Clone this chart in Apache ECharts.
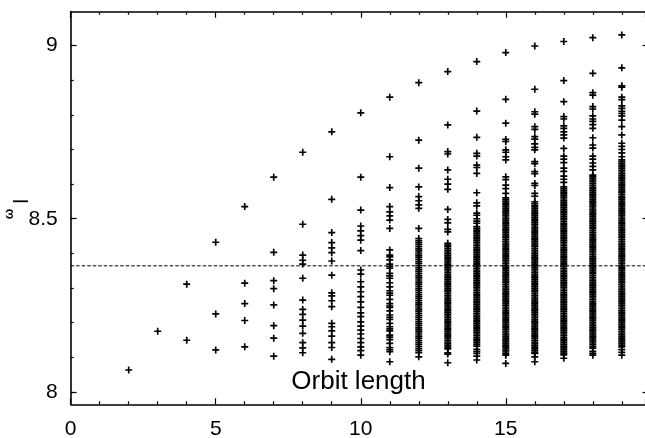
<!DOCTYPE html>
<html><head><meta charset="utf-8">
<script src="https://cdn.jsdelivr.net/npm/echarts@6/dist/echarts.min.js"></script>
<style>html,body{margin:0;padding:0;background:#fff}#c{width:645px;height:438px}</style>
</head><body><div id="c"></div>
<script>
// ---- data (omega_l values per orbit length) ----
const orbit2 = [8.063];
const orbit3 = [8.175];
const orbit4 = [8.311, 8.149];
const orbit5 = [8.432, 8.225, 8.121];
const orbit6 = [8.535, 8.314, 8.255, 8.206, 8.130];
const orbit7 = [8.620, 8.403, 8.321, 8.298, 8.251, 8.191, 8.155, 8.103];
const orbit8 = [8.692, 8.484, 8.395, 8.380, 8.369, 8.328, 8.265, 8.238, 8.224, 8.207, 8.190, 8.169, 8.142, 8.127, 8.113];
const orbit9 = [8.751, 8.556, 8.460, 8.431, 8.416, 8.402, 8.378, 8.337, 8.286, 8.277, 8.263, 8.246, 8.198, 8.188, 8.176, 8.161, 8.142, 8.128, 8.094];
const orbit10 = [8.806, 8.620, 8.525, 8.479, 8.465, 8.451, 8.438, 8.408, 8.352, 8.340, 8.318, 8.303, 8.289, 8.275, 8.260, 8.244, 8.228, 8.217, 8.202, 8.190, 8.178, 8.167, 8.154, 8.142, 8.130, 8.119, 8.106];
const orbit11 = [8.851, 8.679, 8.590, 8.535, 8.520, 8.508, 8.496, 8.472, 8.410, 8.395, 8.390, 8.381, 8.369, 8.362, 8.357, 8.342, 8.335, 8.328, 8.315, 8.303, 8.292, 8.285, 8.279, 8.267, 8.255, 8.248, 8.244, 8.234, 8.222, 8.215, 8.209, 8.198, 8.188, 8.182, 8.176, 8.164, 8.158, 8.151, 8.140, 8.128, 8.122, 8.116, 8.087];
const orbit12 = [8.893, 8.727, 8.646, 8.592, 8.564, 8.552, 8.540, 8.530, 8.472,
  8.443, 8.437, 8.431, 8.425, 8.419, 8.413, 8.407, 8.401, 8.395, 8.389, 8.383, 8.377, 8.371, 8.365, 8.359, 8.353, 8.347, 8.341, 8.335, 8.329, 8.323, 8.317, 8.311, 8.305, 8.299, 8.293, 8.287, 8.281, 8.275, 8.269, 8.263, 8.257, 8.251, 8.245, 8.239, 8.233, 8.227, 8.221, 8.215, 8.209, 8.203, 8.197, 8.191, 8.185, 8.179, 8.173, 8.167, 8.161, 8.155, 8.149, 8.143, 8.137, 8.131, 8.125, 8.119, 8.113, 8.101];
const orbit13 = [8.925, 8.771, 8.694, 8.687, 8.641, 8.614, 8.600, 8.585, 8.527, 8.498, 8.488, 8.469, 8.462,
  8.429, 8.424, 8.419, 8.414, 8.409, 8.404, 8.399, 8.394, 8.389, 8.384, 8.379, 8.374, 8.369, 8.364, 8.359, 8.354, 8.349, 8.344, 8.339, 8.334, 8.329, 8.324, 8.319, 8.314, 8.309, 8.304, 8.299, 8.294, 8.289, 8.284, 8.279, 8.274, 8.269, 8.264, 8.259, 8.254, 8.249, 8.244, 8.239, 8.234, 8.229, 8.224, 8.219, 8.214, 8.209, 8.204, 8.199, 8.194, 8.189, 8.184, 8.179, 8.174, 8.169, 8.164, 8.159, 8.154, 8.149, 8.144, 8.139, 8.134, 8.129, 8.124,
  8.113, 8.109, 8.084];
const orbit14 = [8.954, 8.811, 8.735, 8.689, 8.681, 8.655, 8.648, 8.631, 8.575, 8.546, 8.537, 8.516, 8.510, 8.500, 8.493, 8.487,
  8.477, 8.472, 8.467, 8.462, 8.457, 8.452, 8.447, 8.442, 8.437, 8.432, 8.427, 8.422, 8.417, 8.412, 8.407, 8.402, 8.397, 8.392, 8.387, 8.382, 8.377, 8.372, 8.367, 8.362, 8.357, 8.352, 8.347, 8.342, 8.337, 8.332, 8.327, 8.322, 8.317, 8.312, 8.307, 8.302, 8.297, 8.292, 8.287, 8.282, 8.277, 8.272, 8.267, 8.262, 8.257, 8.252, 8.247, 8.242, 8.237, 8.232, 8.227, 8.222, 8.217, 8.212, 8.207, 8.202, 8.197, 8.192, 8.187, 8.182, 8.177, 8.172, 8.167, 8.162, 8.157, 8.152, 8.147, 8.142, 8.137, 8.132,
  8.123, 8.117, 8.111, 8.103, 8.092];
const orbit15 = [8.980, 8.845, 8.776, 8.729, 8.723, 8.699, 8.692, 8.679, 8.670, 8.621, 8.613, 8.597, 8.587, 8.573,
  8.560, 8.555, 8.550, 8.545, 8.540, 8.535, 8.530, 8.525, 8.520, 8.515, 8.510, 8.505, 8.500, 8.495, 8.490, 8.485, 8.480, 8.475, 8.470, 8.465, 8.460, 8.455, 8.450, 8.445, 8.440, 8.435, 8.430, 8.425, 8.420, 8.415, 8.410, 8.405, 8.400, 8.395, 8.390, 8.385, 8.380, 8.375, 8.370, 8.365, 8.360, 8.355, 8.350, 8.345, 8.340, 8.335, 8.330, 8.325, 8.320, 8.315, 8.310, 8.305, 8.300, 8.295, 8.290, 8.285, 8.280, 8.275, 8.270, 8.265, 8.260, 8.255, 8.250, 8.245, 8.240, 8.235, 8.230, 8.225, 8.220, 8.215, 8.210, 8.205, 8.200, 8.195, 8.190, 8.185, 8.180, 8.175, 8.170, 8.165, 8.160, 8.155, 8.150, 8.145, 8.140, 8.135, 8.130, 8.125, 8.120, 8.115, 8.110, 8.106,
  8.082];
const orbit16 = [8.999, 8.874, 8.809, 8.802, 8.766, 8.758, 8.737, 8.730, 8.716, 8.706, 8.699, 8.665, 8.659, 8.636, 8.630, 8.602, 8.596, 8.573, 8.565,
  8.549, 8.544, 8.539, 8.534, 8.529, 8.524, 8.519, 8.514, 8.509, 8.504, 8.499, 8.494, 8.489, 8.484, 8.479, 8.474, 8.469, 8.464, 8.459, 8.454, 8.449, 8.444, 8.439, 8.434, 8.429, 8.424, 8.419, 8.414, 8.409, 8.404, 8.399, 8.394, 8.389, 8.384, 8.379, 8.374, 8.369, 8.364, 8.359, 8.354, 8.349, 8.344, 8.339, 8.334, 8.329, 8.324, 8.319, 8.314, 8.309, 8.304, 8.299, 8.294, 8.289, 8.284, 8.279, 8.274, 8.269, 8.264, 8.259, 8.254, 8.249, 8.244, 8.239, 8.234, 8.229, 8.224, 8.219, 8.214, 8.209, 8.204, 8.199, 8.194, 8.189, 8.184, 8.179, 8.174, 8.169, 8.164, 8.159, 8.154, 8.149, 8.144, 8.139, 8.134, 8.129, 8.124, 8.119, 8.114, 8.111,
  8.101, 8.087];
const orbit17 = [9.012, 8.899, 8.838, 8.795, 8.788, 8.768, 8.761, 8.751, 8.742, 8.733, 8.703, 8.681, 8.672, 8.662, 8.646, 8.637, 8.623, 8.614, 8.605,
  8.592, 8.587, 8.582, 8.577, 8.572, 8.567, 8.562, 8.557, 8.552, 8.547, 8.542, 8.537, 8.532, 8.527, 8.522, 8.517, 8.512, 8.507, 8.502, 8.497, 8.492, 8.487, 8.482, 8.477, 8.472, 8.467, 8.462, 8.457, 8.452, 8.447, 8.442, 8.437, 8.432, 8.427, 8.422, 8.417, 8.412, 8.407, 8.402, 8.397, 8.392, 8.387, 8.382, 8.377, 8.372, 8.367, 8.362, 8.357, 8.352, 8.347, 8.342, 8.337, 8.332, 8.327, 8.322, 8.317, 8.312, 8.307, 8.302, 8.297, 8.292, 8.287, 8.282, 8.277, 8.272, 8.267, 8.262, 8.257, 8.252, 8.247, 8.242, 8.237, 8.232, 8.227, 8.222, 8.217, 8.212, 8.207, 8.202, 8.197, 8.192, 8.187, 8.182, 8.177, 8.172, 8.167, 8.162, 8.157, 8.152, 8.147, 8.142, 8.137, 8.132, 8.127, 8.122, 8.117, 8.112, 8.107,
  8.097];
const orbit18 = [9.023, 8.920, 8.864, 8.857, 8.824, 8.817, 8.797, 8.788, 8.781, 8.772, 8.761, 8.734, 8.713, 8.704, 8.681, 8.672, 8.661, 8.651, 8.641,
  8.626, 8.621, 8.616, 8.611, 8.606, 8.601, 8.596, 8.591, 8.586, 8.581, 8.576, 8.571, 8.566, 8.561, 8.556, 8.551, 8.546, 8.541, 8.536, 8.531, 8.526, 8.521, 8.516, 8.511, 8.506, 8.501, 8.496, 8.491, 8.486, 8.481, 8.476, 8.471, 8.466, 8.461, 8.456, 8.451, 8.446, 8.441, 8.436, 8.431, 8.426, 8.421, 8.416, 8.411, 8.406, 8.401, 8.396, 8.391, 8.386, 8.381, 8.376, 8.371, 8.366, 8.361, 8.356, 8.351, 8.346, 8.341, 8.336, 8.331, 8.326, 8.321, 8.316, 8.311, 8.306, 8.301, 8.296, 8.291, 8.286, 8.281, 8.276, 8.271, 8.266, 8.261, 8.256, 8.251, 8.246, 8.241, 8.236, 8.231, 8.226, 8.221, 8.216, 8.211, 8.206, 8.201, 8.196, 8.191, 8.186, 8.181, 8.176, 8.171, 8.166, 8.161, 8.156, 8.151, 8.146, 8.141, 8.136, 8.131, 8.126,
  8.117, 8.111, 8.106];
const orbit19 = [9.031, 8.936, 8.884, 8.880, 8.851, 8.844, 8.826, 8.819, 8.810, 8.804, 8.797, 8.785, 8.766, 8.742, 8.718, 8.709, 8.700, 8.690, 8.679,
  8.670, 8.665, 8.660, 8.655, 8.650, 8.645, 8.640, 8.635, 8.630, 8.625, 8.620, 8.615, 8.610, 8.605, 8.600, 8.595, 8.590, 8.585, 8.580, 8.575, 8.570, 8.565, 8.560, 8.555, 8.550, 8.545, 8.540, 8.535, 8.530, 8.525, 8.520, 8.515, 8.510, 8.505, 8.500, 8.495, 8.490, 8.485, 8.480, 8.475, 8.470, 8.465, 8.460, 8.455, 8.450, 8.445, 8.440, 8.435, 8.430, 8.425, 8.420, 8.415, 8.410, 8.405, 8.400, 8.395, 8.390, 8.385, 8.380, 8.375, 8.370, 8.365, 8.360, 8.355, 8.350, 8.345, 8.340, 8.335, 8.330, 8.325, 8.320, 8.315, 8.310, 8.305, 8.300, 8.295, 8.290, 8.285, 8.280, 8.275, 8.270, 8.265, 8.260, 8.255, 8.250, 8.245, 8.240, 8.235, 8.230, 8.225, 8.220, 8.215, 8.210, 8.205, 8.200, 8.195, 8.190, 8.185, 8.180, 8.175, 8.170, 8.165, 8.160, 8.155, 8.150, 8.145, 8.140, 8.135, 8.130,
  8.122, 8.114, 8.106];

const orbitLengths = [2, 3, 4, 5, 6, 7, 8, 9, 10, 11, 12, 13, 14, 15, 16, 17, 18, 19];
const orbitValues = [orbit2, orbit3, orbit4, orbit5, orbit6, orbit7, orbit8, orbit9, orbit10,
  orbit11, orbit12, orbit13, orbit14, orbit15, orbit16, orbit17, orbit18, orbit19];

const referenceLevel = 8.364;          // dashed horizontal line
const xLabelValues = [0, 5, 10, 15];
const yLabelValues = [8, 8.5, 9];
const yMinorValues = [8.0, 8.1, 8.2, 8.3, 8.4, 8.5, 8.6, 8.7, 8.8, 8.9, 9.0];
const xTitle = 'Orbit length';

// ---- build chart ----
const points = [];
orbitLengths.forEach((L, i) => orbitValues[i].forEach(v => points.push([L, v])));

const FONT = 'Liberation Sans';
const PLUS = 'path://M3.8,0H6.2V3.8H10V6.2H6.2V10H3.8V6.2H0V3.8H3.8Z';
const Y_MIN = 7.964, Y_MAX = 9.098;
const X_MAX = 19.8;   // picture is cut at the right edge, just before 20

function yAx(pos, values, len, labels, line) {
  return {
    type: 'value', position: pos, min: Y_MIN, max: Y_MAX,
    axisLine: { show: line, lineStyle: { color: '#000', width: 1.6 } },
    splitLine: { show: false },
    axisTick: { show: true, inside: true, length: len, customValues: values, lineStyle: { color: '#000', width: 1.2 } },
    axisLabel: labels ? { show: true, customValues: labels, color: '#000', fontSize: 21, fontFamily: FONT, margin: 13 } : { show: false }
  };
}
function xAx(pos, labels) {
  return {
    type: 'value', position: pos, min: 0, max: X_MAX, interval: 5,
    axisLine: { show: true, lineStyle: { color: '#000', width: 1.6 } },
    splitLine: { show: false },
    axisTick: { show: true, inside: true, length: 6, lineStyle: { color: '#000', width: 1.2 } },
    minorTick: { show: true, splitNumber: 5, length: 3, lineStyle: { color: '#000', width: 1.2 } },
    axisLabel: labels ? { show: true, customValues: labels, color: '#000', fontSize: 21, fontFamily: FONT, margin: 14 } : { show: false }
  };
}

const chart = echarts.init(document.getElementById('c'), null, { renderer: 'canvas' });
chart.setOption({
  animation: false,
  backgroundColor: '#fff',
  textStyle: { fontFamily: FONT },
  grid: { left: 70.7, top: 11.7, right: 0, height: 392.6, containLabel: false, outerBoundsMode: 'none' },
  xAxis: [xAx('bottom', xLabelValues), xAx('top', null)],
  yAxis: [
    yAx('left', yLabelValues, 6, yLabelValues, true),
    yAx('left', yMinorValues, 3, null, false),
    yAx('right', yLabelValues, 2.5, null, false)
  ],
  series: [
    {
      type: 'scatter', xAxisIndex: 0, yAxisIndex: 0, data: points,
      symbol: PLUS, symbolSize: 7, itemStyle: { color: '#000', opacity: 1 }, silent: true
    },
    {
      type: 'line', xAxisIndex: 0, yAxisIndex: 0,
      data: [[0, referenceLevel], [X_MAX, referenceLevel]],
      symbol: 'none', silent: true,
      lineStyle: { color: '#000', width: 1, type: [3.5, 2] }
    }
  ],
  graphic: [
    { type: 'text', x: 358.5, y: 381.5, silent: true,
      style: { text: xTitle, fontSize: 26, fontFamily: FONT, fill: '#000', align: 'center', verticalAlign: 'middle' } },
    { type: 'text', x: 9.7, y: 214, rotation: Math.PI / 2, silent: true,
      style: { text: 'ω', fontSize: 12.5, fontFamily: FONT, fontWeight: 'bold', fill: '#000', align: 'center', verticalAlign: 'middle' } },
    { type: 'text', x: 22.1, y: 201.4, rotation: Math.PI / 2, silent: true,
      style: { text: 'l', fontSize: 20, fontFamily: FONT, fill: '#000', align: 'center', verticalAlign: 'middle' } }
  ]
});
</script>
</body></html>
